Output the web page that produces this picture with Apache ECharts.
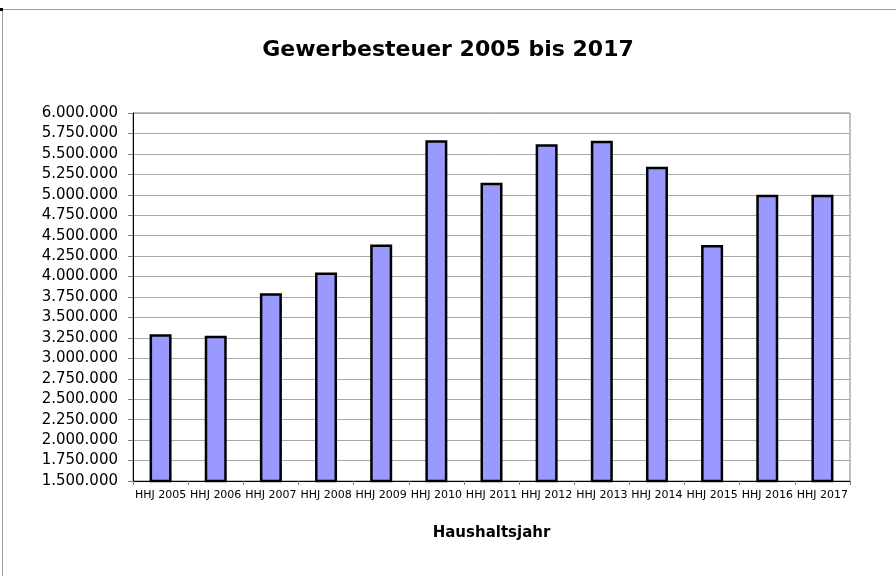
<!DOCTYPE html>
<html lang="de" style="height: 100%">
<head>
  <meta charset="utf-8">
</head>
<body style="height: 100%; margin: 0">
  <div id="container" style="width: 896px; height: 576px;"></div>

  <script type="text/javascript" src="https://fastly.jsdelivr.net/npm/echarts@6/dist/echarts.min.js"></script>

  <script type="text/javascript">
    // Haushaltsjahre und Gewerbesteuer-Werte
    var years = ['HHJ 2005', 'HHJ 2006', 'HHJ 2007', 'HHJ 2008', 'HHJ 2009', 'HHJ 2010', 'HHJ 2011',
                 'HHJ 2012', 'HHJ 2013', 'HHJ 2014', 'HHJ 2015', 'HHJ 2016', 'HHJ 2017'];
    var tax = [3295000, 3275000, 3795000, 4050000, 4393000, 5668000, 5148000,
               5619000, 5660000, 5343000, 4385000, 5000000, 5000000];
    var yMin = 1500000;
    var yMax = 6000000;
    var yStep = 250000;

    function formatDe(v) {
      return String(v).replace(/\B(?=(\d{3})+(?!\d))/g, '.');
    }

    var dom = document.getElementById('container');
    var myChart = echarts.init(dom, null, { renderer: 'canvas' });
    var font = 'DejaVu Sans';

    var option = {
      animation: false,
      backgroundColor: '#fff',
      title: {
        text: 'Gewerbesteuer 2005 bis 2017',
        left: 'center',
        top: 34,
        textStyle: { fontFamily: font, fontSize: 22, fontWeight: 'bold', color: '#000' }
      },
      graphic: [
        {
          type: 'rect',
          shape: { x: 2.5, y: 9.5, width: 1000, height: 700 },
          style: { fill: null, stroke: '#a0a0a0', lineWidth: 1 },
          silent: true
        },
        {
          type: 'rect',
          shape: { x: 0, y: 8, width: 3, height: 3 },
          style: { fill: '#000' },
          silent: true
        }
      ],
      grid: {
        left: 133,
        right: 46,
        top: 113,
        bottom: 95,
        show: true,
        borderColor: '#808080',
        borderWidth: 1
      },
      xAxis: {
        type: 'category',
        data: years,
        name: 'Haushaltsjahr',
        nameLocation: 'middle',
        nameGap: 45,
        nameTextStyle: { fontFamily: font, fontSize: 15, fontWeight: 'bold', color: '#000' },
        axisLine: { lineStyle: { color: '#000', width: 1 } },
        axisTick: { show: true, length: 4, lineStyle: { color: '#808080' } },
        axisLabel: { interval: 0, margin: 9, fontFamily: font, fontSize: 11, color: '#000' }
      },
      yAxis: {
        type: 'value',
        min: yMin,
        max: yMax,
        interval: yStep,
        axisLine: { show: true, lineStyle: { color: '#000', width: 1 } },
        axisTick: { show: true, length: 5, lineStyle: { color: '#808080' } },
        axisLabel: { margin: 15, fontFamily: font, fontSize: 15, color: '#000', formatter: formatDe },
        splitLine: { lineStyle: { color: '#a8a8a8', width: 1 } }
      },
      series: [
        {
          type: 'bar',
          data: tax,
          barWidth: 22,
          itemStyle: { color: '#9999ff', borderColor: '#000', borderWidth: 2.5 }
        }
      ]
    };

    myChart.setOption(option);
    window.addEventListener('resize', myChart.resize);
  </script>
</body>
</html>
